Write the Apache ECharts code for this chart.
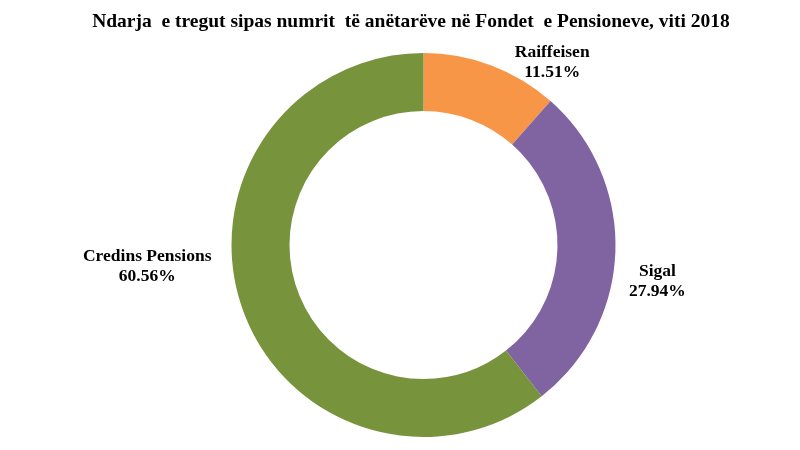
<!DOCTYPE html>
<html>
<head>
<meta charset="utf-8">
<script src="https://cdn.jsdelivr.net/npm/echarts@6/dist/echarts.min.js"></script>
<style>html,body{margin:0;padding:0;background:#fff}#c{width:800px;height:450px}</style>
</head>
<body>
<div id="c"></div>
<script>
const titleText = 'Ndarja  e tregut sipas numrit  të anëtarëve në Fondet  e Pensioneve, viti 2018';
const categories = ['Raiffeisen', 'Sigal', 'Credins Pensions'];
const shares = [11.51, 27.94, 60.56];
const colors = ['#F79646', '#8064A2', '#77933C'];
const labelShift = [[44, 2], [22, 31], [-75, -43]];

const chart = echarts.init(document.getElementById('c'), null, {renderer: 'canvas'});
chart.setOption({
  backgroundColor: '#ffffff',
  animation: false,
  title: {
    text: titleText,
    left: 406, top: 7, textAlign: 'center',
    textStyle: {fontFamily: 'Liberation Serif', fontWeight: 'bold', fontSize: 19.5, color: '#000'}
  },
  series: [{
    type: 'pie',
    center: [423.5, 245],
    radius: [134, 192],
    startAngle: 90,
    clockwise: true,
    avoidLabelOverlap: false,
    data: categories.map((n, i) => ({name: n, value: shares[i], itemStyle: {color: colors[i]}})),
    itemStyle: {borderColor: '#fff', borderWidth: 0},
    label: {
      show: true,
      position: 'outside',
      formatter: '{b}\n{c}%',
      fontFamily: 'Liberation Serif',
      fontWeight: 'bold',
      fontSize: 17.5,
      lineHeight: 20,
      color: '#000',
      align: 'center'
    },
    labelLine: {show: false, length: 5, length2: 10},
    labelLayout: function (p) {
      const s = labelShift[p.dataIndex];
      return {align: 'center', verticalAlign: 'middle', dx: s[0], dy: s[1]};
    }
  }]
});
</script>
</body>
</html>
